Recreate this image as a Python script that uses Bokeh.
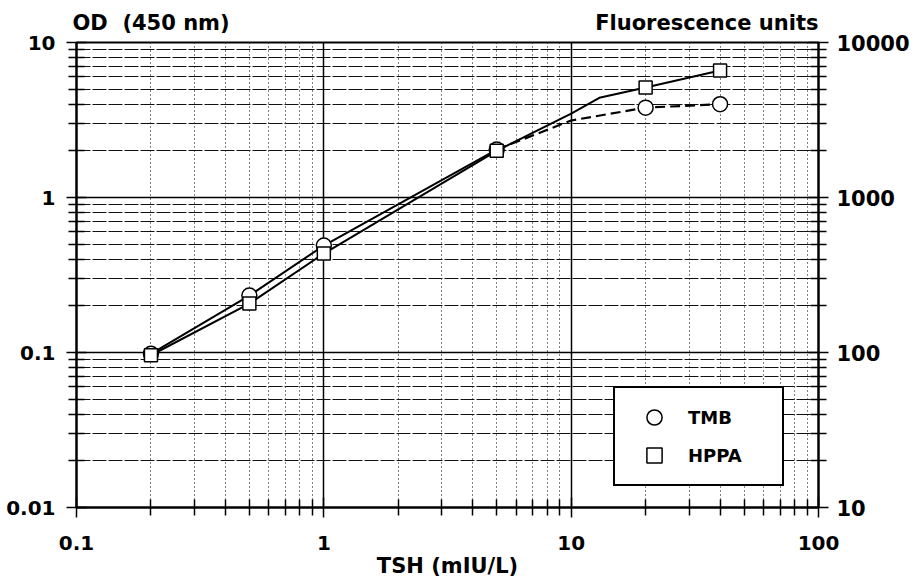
from bokeh.plotting import figure
from bokeh.models import (Range1d, LogScale, LogAxis, FixedTicker, CustomJSTickFormatter,
                          Legend, LegendItem, Title)
from bokeh.embed import file_html
from bokeh.resources import INLINE

FONT = "DejaVu Sans"

# ---- data ----
tsh = [0.2, 0.5, 1, 5, 20, 40]                 # TSH (mIU/L)
od_tmb = [0.098, 0.233, 0.49, 2.04, 3.8, 4.0]   # OD (450 nm), TMB
fl_hppa = [96, 207, 435, 2000, 5130, 6600]      # Fluorescence units, HPPA

# fitted curves as drawn in the figure
tmb_fit_solid_x = [0.2, 0.5, 1, 5]
tmb_fit_solid_y = [0.098, 0.233, 0.49, 2.04]
tmb_fit_dash_x = [5, 10, 20, 40]
tmb_fit_dash_y = [2.04, 3.14, 3.8, 4.0]
hppa_fit_x = [0.2, 0.5, 1, 5, 10, 13, 20, 40]
hppa_fit_y = [96, 207, 435, 2000, 3480, 4400, 5130, 6600]

# axis ticks
tsh_major = [0.1, 1, 10, 100]
od_major = [0.01, 0.1, 1, 10]
fl_major = [10, 100, 1000, 10000]
mults = [2, 3, 4, 5, 6, 7, 8, 9]

left_title = "OD  (450 nm)"
right_title = "Fluorescence units"
x_title = "TSH (mIU/L)"


def minors(major):
    return [m * k for m in major[:-1] for k in mults]


x_ticker = FixedTicker(ticks=tsh_major, minor_ticks=minors(tsh_major))
y_ticker = FixedTicker(ticks=od_major, minor_ticks=minors(od_major))
r_ticker = FixedTicker(ticks=fl_major, minor_ticks=minors(fl_major))

p = figure(width=920, height=586, x_axis_type="log", y_axis_type="log",
           x_range=Range1d(0.1, 100), y_range=Range1d(0.01, 10),
           output_backend="svg", toolbar_location=None, title=None,
           min_border_left=76, min_border_right=102, min_border_top=42, min_border_bottom=79)
p.extra_y_ranges = {"fl": Range1d(10, 10000)}
p.extra_y_scales = {"fl": LogScale()}
ax_r = LogAxis(y_range_name="fl")
p.add_layout(ax_r, "right")

p.xaxis[0].ticker = x_ticker
p.yaxis[0].ticker = y_ticker
ax_r.ticker = r_ticker
p.xgrid[0].ticker = x_ticker
p.ygrid[0].ticker = y_ticker

fmt = CustomJSTickFormatter(code="return tick.toString();")
for ax in [p.xaxis[0], p.yaxis[0], ax_r]:
    ax.formatter = fmt
    ax.axis_line_color = "black"
    ax.axis_line_width = 2
    ax.major_tick_in = 10
    ax.major_tick_out = 10
    ax.minor_tick_in = 8
    ax.minor_tick_out = 8
    ax.major_tick_line_color = "black"
    ax.minor_tick_line_color = "black"
    ax.major_tick_line_width = 1.5
    ax.minor_tick_line_width = 1.5
    ax.major_label_text_font = FONT
    ax.major_label_text_font_style = "bold"
    ax.major_label_text_font_size = "20px"
    ax.major_label_text_color = "black"
p.xaxis[0].major_label_standoff = 18
p.yaxis[0].major_label_standoff = 11
ax_r.major_label_standoff = 8
ax_r.major_label_text_font_size = "21px"

p.xaxis[0].axis_label = x_title
p.xaxis[0].axis_label_standoff = 1
p.xaxis[0].axis_label_text_font = FONT
p.xaxis[0].axis_label_text_font_style = "bold"
p.xaxis[0].axis_label_text_font_size = "21px"
p.xaxis[0].axis_label_text_color = "black"

p.xgrid[0].grid_line_color = "black"
p.xgrid[0].grid_line_width = 1.5
p.xgrid[0].minor_grid_line_color = "black"
p.xgrid[0].minor_grid_line_width = 1
p.xgrid[0].minor_grid_line_dash = "1 3"
p.ygrid[0].grid_line_color = "black"
p.ygrid[0].grid_line_width = 1.5
p.ygrid[0].minor_grid_line_color = "#111111"
p.ygrid[0].minor_grid_line_width = 1.2
p.ygrid[0].minor_grid_line_dash = "14 2"

p.outline_line_color = "black"
p.outline_line_width = 2
p.background_fill_color = "white"
p.border_fill_color = "white"

p.line(hppa_fit_x, hppa_fit_y, y_range_name="fl", line_color="black", line_width=2)
p.line(tmb_fit_solid_x, tmb_fit_solid_y, line_color="black", line_width=2)
p.line(tmb_fit_dash_x, tmb_fit_dash_y, line_color="black", line_width=2.2, line_dash="10 5")

c = p.scatter(tsh, od_tmb, marker="circle", size=15, fill_color="white",
              line_color="black", line_width=1.5)
s = p.scatter(tsh, fl_hppa, y_range_name="fl", marker="square", size=13,
              fill_color="white", line_color="black", line_width=1.5)

legend = Legend(items=[LegendItem(label="TMB", renderers=[c]),
                       LegendItem(label="HPPA", renderers=[s])],
                location=(537, 21), glyph_width=58, glyph_height=38, spacing=0,
                padding=10, margin=0, label_standoff=5, label_width=84,
                label_text_font=FONT, label_text_font_style="bold",
                label_text_font_size="18px", label_text_color="black",
                border_line_color="black",
                border_line_alpha=1.0, border_line_width=2,
                background_fill_color="white", background_fill_alpha=1.0)
p.add_layout(legend)

# both top captions share one title row: left caption, gap of no-break spaces, right caption
gap = "\u00a0" * 50
top_text = left_title.replace(" ", "\u00a0") + gap + right_title
p.add_layout(Title(text=top_text, align="left", offset=-4, standoff=15,
                   text_font=FONT, text_font_style="bold", text_font_size="21px",
                   text_color="black"), "above")

open("out.html", "w").write(file_html(p, INLINE))
